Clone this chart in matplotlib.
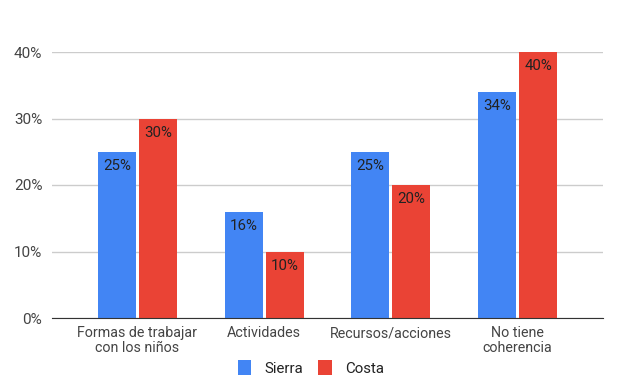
import matplotlib
matplotlib.use("Agg")
import matplotlib.pyplot as plt
import numpy as np

categories = ["Formas de trabajar\ncon los niños", "Actividades", "Recursos/acciones", "No tiene\ncoherencia"]
sierra = [25, 16, 25, 34]
costa = [30, 10, 20, 40]
yticks = [0, 10, 20, 30, 40]

plt.rcParams['font.family'] = ['Roboto', 'DejaVu Sans']

fig = plt.figure(figsize=(6.2, 3.84), dpi=100)
ax = fig.add_axes([52/620, 1-318/384, (603-52)/620, (318-52)/384])

x = np.arange(len(categories))
w = 0.3
gap = 0.012
b1 = ax.bar(x - w/2 - gap, sierra, w, color='#4285F4', label='Sierra', zorder=3)
b2 = ax.bar(x + w/2 + gap, costa, w, color='#EA4335', label='Costa', zorder=3)

for bars, vals in ((b1, sierra), (b2, costa)):
    for r, v in zip(bars, vals):
        ax.text(r.get_x() + r.get_width()/2, v - 1.1, f"{v}%", ha='center', va='top',
                fontsize=10.8, color='#222222', zorder=4)

ax.set_xlim(-0.673, 3.673)
ax.set_ylim(0, 40)
ax.set_yticks(yticks)
ax.set_yticklabels([f"{t}%" for t in yticks])
ax.set_xticks(x)
ax.set_xticklabels(categories, linespacing=1.05)
ax.tick_params(axis='y', length=0, labelsize=11, colors='#444444', pad=7)
ax.tick_params(axis='x', length=0, labelsize=10.3, colors='#444444', pad=6)
ax.grid(axis='y', color='#cccccc', linewidth=1, zorder=0)
for s in ['top', 'right', 'left']:
    ax.spines[s].set_visible(False)
ax.spines['bottom'].set_color('#333333')
ax.spines['bottom'].set_zorder(5)

fig.legend(handles=[b1, b2], labels=['Sierra', 'Costa'], loc='center',
           bbox_to_anchor=(311/620, 1-368/384), ncol=2, frameon=False,
           fontsize=10.8, handlelength=0.9, handleheight=1.1, columnspacing=1.0,
           handletextpad=0.9, labelcolor='#222222')

fig.savefig("out.png", dpi=100)
